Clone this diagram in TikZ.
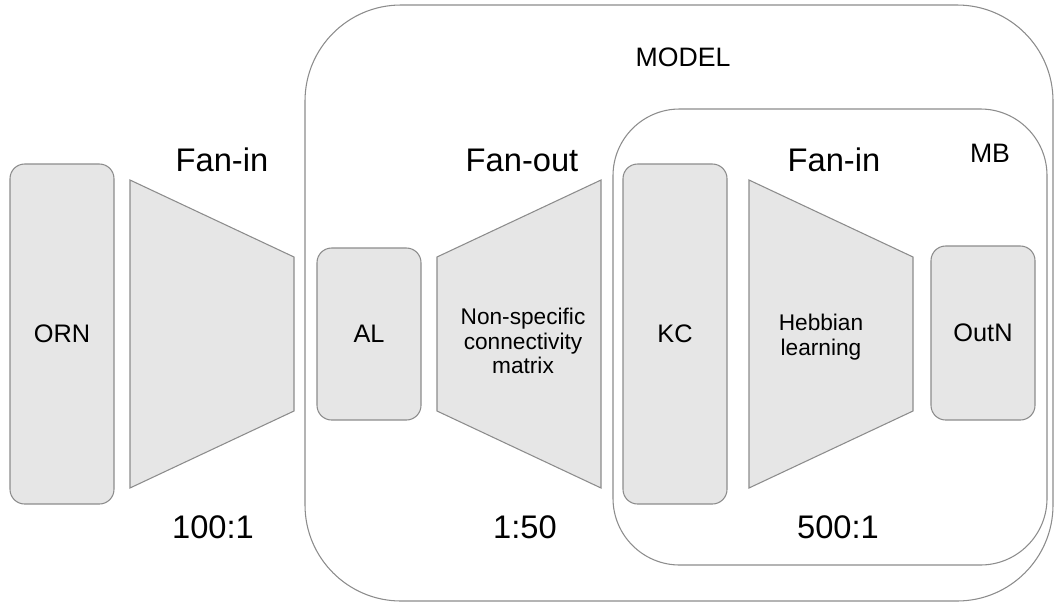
\documentclass[tikz,border=0pt]{standalone}
\usepackage{fontspec}
\setmainfont{Liberation Sans}
\definecolor{boxfill}{HTML}{E6E6E6}
\definecolor{boxline}{HTML}{8C8C8C}
\definecolor{frameline}{HTML}{8C8C8C}
\tikzset{
  unit/.style={draw=boxline, fill=boxfill, line width=0.8pt, rounded corners=11pt},
  funnel/.style={draw=boxline, fill=boxfill, line width=0.8pt, line join=miter},
  frame/.style={draw=frameline, line width=0.8pt},
  big/.style={font=\fontsize{24.5}{28}\selectfont, inner sep=0pt},
  mid/.style={font=\fontsize{20}{24}\selectfont, inner sep=0pt},
  lab/.style={font=\fontsize{19}{22}\selectfont, inner sep=0pt},
  small/.style={font=\fontsize{17}{18.5}\selectfont, inner sep=0pt, align=center},
}
\begin{document}
\begin{tikzpicture}[x=0.75pt, y=-0.75pt]
\useasboundingbox (0,0) rectangle (1056,604);
% frames
\draw[frame, rounded corners=72pt] (305,5) rectangle (1053,601);
\draw[frame, rounded corners=50pt] (613,109) rectangle (1047,565);
\node[mid] (model) at (683,57) {MODEL};
\node[mid] (mb) at (990,153) {MB};
% units
\draw[unit] (10,164) rectangle (114,504);
\node[lab] (orn) at (62,334) {ORN};
\draw[unit] (317,248) rectangle (421,420);
\node[lab] (al) at (369,334) {AL};
\draw[unit] (623,164) rectangle (727,504);
\node[lab] (kc) at (675,334) {KC};
\draw[unit] (931,246) rectangle (1035,420);
\node[lab] (outn) at (983,333) {OutN};
% funnels
\draw[funnel] (130,180) -- (294,257) -- (294,411) -- (130,488) -- cycle;
\draw[funnel] (437,257) -- (601,180) -- (601,488) -- (437,411) -- cycle;
\draw[funnel] (749,180) -- (913,257) -- (913,411) -- (749,488) -- cycle;
\node[small] (ns) at (523,341) {Non-specific\\connectivity\\matrix};
\node[small] (hl) at (821,337) {Hebbian\\learning};
% labels
\node[big] (f1) at (222,160) {Fan-in};
\node[big] (f2) at (522,160) {Fan-out};
\node[big] (f3) at (834,160) {Fan-in};
\node[big] (r1) at (213,527) {100:1};
\node[big] (r2) at (525,527) {1:50};
\node[big] (r3) at (838,527) {500:1};
\end{tikzpicture}
\end{document}
